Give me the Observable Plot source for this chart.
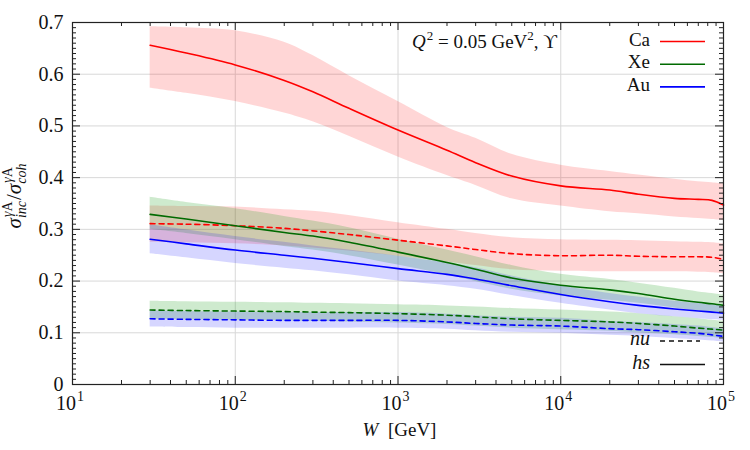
<!DOCTYPE html>
<html>
<head>
<meta charset="utf-8">
<script src="https://cdn.jsdelivr.net/npm/d3@7"></script>
<script src="https://cdn.jsdelivr.net/npm/@observablehq/plot@0.6"></script>
<style>
  body { margin: 0; background: #fff; }
  #chart svg { display: block; }
  #chart svg text { font-family: "Liberation Serif", "DejaVu Serif", serif; }
</style>
</head>
<body>
<div id="chart"></div>
<script>
// Photon-nucleus energy W [GeV]
const W = [30, 50, 100, 200, 300, 500, 1000, 2000, 3000, 5000, 10000, 20000, 30000, 50000, 70000, 85000, 100000];

// Ratio sigma_inc / sigma_coh, central values and uncertainty band (lo, hi)
// "hs" = hot-spot model, "nu" = no-substructure model
const caHs   = [0.656, 0.641, 0.618, 0.588, 0.566, 0.534, 0.492, 0.453, 0.429, 0.403, 0.384, 0.376, 0.368, 0.360, 0.358, 0.356, 0.347];
const caHsLo = [0.573, 0.563, 0.547, 0.525, 0.508, 0.480, 0.440, 0.404, 0.385, 0.359, 0.345, 0.334, 0.330, 0.324, 0.321, 0.319, 0.317];
const caHsHi = [0.692, 0.690, 0.684, 0.662, 0.636, 0.597, 0.547, 0.497, 0.476, 0.445, 0.424, 0.412, 0.405, 0.397, 0.392, 0.390, 0.388];

const caNu   = [0.311, 0.310, 0.307, 0.302, 0.297, 0.290, 0.279, 0.268, 0.261, 0.253, 0.249, 0.250, 0.248, 0.247, 0.247, 0.246, 0.242];
const caNuLo = [0.275, 0.274, 0.272, 0.268, 0.264, 0.258, 0.248, 0.237, 0.230, 0.222, 0.219, 0.218, 0.218, 0.218, 0.217, 0.216, 0.214];
const caNuHi = [0.345, 0.344, 0.343, 0.338, 0.335, 0.327, 0.313, 0.300, 0.292, 0.284, 0.280, 0.279, 0.278, 0.276, 0.275, 0.274, 0.272];

const xeHs   = [0.329, 0.320, 0.307, 0.294, 0.287, 0.275, 0.256, 0.236, 0.223, 0.206, 0.192, 0.183, 0.176, 0.165, 0.159, 0.156, 0.153];
const xeHsLo = [0.300, 0.292, 0.280, 0.267, 0.260, 0.249, 0.231, 0.212, 0.199, 0.184, 0.171, 0.163, 0.157, 0.148, 0.142, 0.139, 0.135];
const xeHsHi = [0.362, 0.352, 0.340, 0.325, 0.316, 0.303, 0.281, 0.260, 0.247, 0.230, 0.213, 0.203, 0.196, 0.186, 0.179, 0.176, 0.173];

const xeNu   = [0.144, 0.143, 0.142, 0.141, 0.140, 0.139, 0.137, 0.134, 0.131, 0.127, 0.124, 0.121, 0.118, 0.113, 0.109, 0.107, 0.105];
const xeNuLo = [0.126, 0.125, 0.124, 0.123, 0.122, 0.121, 0.119, 0.116, 0.113, 0.109, 0.106, 0.103, 0.100, 0.096, 0.093, 0.091, 0.089];
const xeNuHi = [0.161, 0.160, 0.159, 0.158, 0.157, 0.156, 0.154, 0.152, 0.150, 0.147, 0.144, 0.140, 0.137, 0.131, 0.127, 0.124, 0.122];

const auHs   = [0.281, 0.272, 0.260, 0.250, 0.244, 0.236, 0.224, 0.213, 0.204, 0.191, 0.174, 0.160, 0.153, 0.146, 0.142, 0.140, 0.138];
const auHsLo = [0.253, 0.245, 0.234, 0.225, 0.220, 0.212, 0.200, 0.191, 0.184, 0.172, 0.157, 0.144, 0.137, 0.131, 0.127, 0.125, 0.124];
const auHsHi = [0.309, 0.299, 0.286, 0.275, 0.268, 0.260, 0.248, 0.235, 0.226, 0.210, 0.191, 0.176, 0.169, 0.161, 0.157, 0.155, 0.152];

const auNu   = [0.127, 0.126, 0.125, 0.124, 0.124, 0.124, 0.124, 0.121, 0.118, 0.115, 0.113, 0.108, 0.106, 0.102, 0.099, 0.096, 0.093];
const auNuLo = [0.111, 0.110, 0.109, 0.109, 0.109, 0.109, 0.109, 0.107, 0.104, 0.101, 0.099, 0.095, 0.093, 0.089, 0.086, 0.084, 0.082];
const auNuHi = [0.142, 0.141, 0.140, 0.139, 0.139, 0.139, 0.139, 0.136, 0.133, 0.130, 0.128, 0.122, 0.120, 0.116, 0.113, 0.110, 0.107];

// Axis ticks
const xMajor = [10, 100, 1000, 10000, 100000];
const xMinor = [10, 100, 1000, 10000].flatMap(d => [2, 3, 4, 5, 6, 7, 8, 9].map(k => d * k));
const xGrid = [100, 1000, 10000];
const yMajor = [0, 0.1, 0.2, 0.3, 0.4, 0.5, 0.6, 0.7];
const yMinor = d3.range(0, 71).filter(i => i % 10 !== 0).map(i => i / 100);
const yGrid = [0.1, 0.2, 0.3, 0.4, 0.5, 0.6];

const nuclei = ["Ca", "Xe", "Au"];
const lineColor = {Ca: "#ff0000", Xe: "#006a00", Au: "#0000ff"};
const bandColor = {Ca: "#ff0000", Xe: "#22a022", Au: "#0000ff"};
const bandOpacity = {Ca: 0.16, Xe: 0.22, Au: 0.16};

const series = [
  {nucleus: "Ca", model: "hs", mid: caHs, lo: caHsLo, hi: caHsHi},
  {nucleus: "Ca", model: "nu", mid: caNu, lo: caNuLo, hi: caNuHi},
  {nucleus: "Xe", model: "hs", mid: xeHs, lo: xeHsLo, hi: xeHsHi},
  {nucleus: "Xe", model: "nu", mid: xeNu, lo: xeNuLo, hi: xeNuHi},
  {nucleus: "Au", model: "hs", mid: auHs, lo: auHsLo, hi: auHsHi},
  {nucleus: "Au", model: "nu", mid: auNu, lo: auNuLo, hi: auNuHi}
];

const rows = series.map(s => W.map((w, i) => ({
  W: w, y: s.mid[i], lo: s.lo[i], hi: s.hi[i], nucleus: s.nucleus, model: s.model
})));

const width = 750, height = 450;
const margin = {left: 72, right: 27, top: 22, bottom: 66};
const innerW = width - margin.left - margin.right;
const innerH = height - margin.top - margin.bottom;
const majorLen = 8, minorLen = 4;
const tickStroke = "#222";
const curve = "catmull-rom";
const serif = "'Liberation Serif', 'DejaVu Serif', serif";

const bands = series.map((s, k) => Plot.areaY(rows[k], {
  x: "W", y1: "lo", y2: "hi", curve,
  fill: bandColor[s.nucleus], fillOpacity: bandOpacity[s.nucleus]
}));
const lines = series.map((s, k) => Plot.line(rows[k], {
  x: "W", y: "y", curve,
  stroke: lineColor[s.nucleus], strokeWidth: 1.6,
  strokeDasharray: s.model === "nu" ? "5,4" : null
}));

// inward ticks on all four sides of the frame
const yTickMarks = [
  Plot.tickY(yMajor, {y: d => d, insetRight: innerW - majorLen, stroke: tickStroke}),
  Plot.tickY(yMajor, {y: d => d, insetLeft: innerW - majorLen, stroke: tickStroke}),
  Plot.tickY(yMinor, {y: d => d, insetRight: innerW - minorLen, stroke: tickStroke}),
  Plot.tickY(yMinor, {y: d => d, insetLeft: innerW - minorLen, stroke: tickStroke})
];
const xTickMarks = [
  Plot.tickX(xMajor, {x: d => d, insetTop: innerH - majorLen, stroke: tickStroke}),
  Plot.tickX(xMajor, {x: d => d, insetBottom: innerH - majorLen, stroke: tickStroke}),
  Plot.tickX(xMinor, {x: d => d, insetTop: innerH - minorLen, stroke: tickStroke}),
  Plot.tickX(xMinor, {x: d => d, insetBottom: innerH - minorLen, stroke: tickStroke})
];

const plot = Plot.plot({
  width, height,
  marginLeft: margin.left, marginRight: margin.right,
  marginTop: margin.top, marginBottom: margin.bottom,
  style: {fontFamily: serif, fontSize: "20px", background: "#fff", color: "#111"},
  x: {type: "log", domain: [10, 1e5], axis: null, label: null},
  y: {domain: [0, 0.7], label: null},
  marks: [
    Plot.gridX(xGrid, {stroke: "#d8d8d8", strokeOpacity: 1}),
    Plot.gridY(yGrid, {stroke: "#d8d8d8", strokeOpacity: 1}),
    ...bands,
    ...lines,
    ...yTickMarks,
    ...xTickMarks,
    Plot.frame({stroke: "#222", strokeWidth: 1.2}),
    Plot.axisY(yMajor, {tickSize: 0, tickPadding: 9, label: null, fontSize: 20, fontFamily: serif,
      tickFormat: d => d === 0 ? "0" : d.toFixed(1)})
  ]
});

document.getElementById("chart").appendChild(plot);

const svg = d3.select(plot);
const sx = plot.scale("x");

// Lay out a run of text pieces with super/subscripts; "mark" remembers the
// start of a script group, "back" returns to it so sub- and superscript stack.
function mathText(parent, runs, {x, y, anchor = "start", rotate = 0}) {
  const g = parent.append("g").attr("transform", `translate(${x},${y}) rotate(${rotate})`);
  const inner = g.append("g").attr("text-anchor", "start");
  let cx = 0, mark = 0, maxX = 0;
  for (const r of runs) {
    if (r.mark) mark = cx;
    if (r.back) cx = mark;
    const t = inner.append("text")
      .attr("x", cx + (r.dx || 0))
      .attr("y", r.dy || 0)
      .attr("text-anchor", "start")
      .attr("font-family", serif)
      .attr("font-size", r.size)
      .attr("font-style", r.italic ? "italic" : "normal")
      .attr("fill", "#111")
      .style("white-space", "pre")
      .text(r.text);
    const w = t.node().getComputedTextLength();
    cx += w + (r.dx || 0);
    maxX = Math.max(maxX, cx);
    if (r.back) cx = maxX;
  }
  const off = anchor === "middle" ? -maxX / 2 : anchor === "end" ? -maxX : 0;
  inner.attr("transform", `translate(${off},0)`);
  return g;
}

// x tick labels 10^n
xMajor.forEach(v => {
  const n = Math.round(Math.log10(v));
  mathText(svg, [
    {text: "10", size: 20},
    {text: String(n), size: 14, dy: -9, dx: 1}
  ], {x: sx.apply(v) - 2, y: height - margin.bottom + 26, anchor: "middle"});
});

// x axis title
mathText(svg, [
  {text: "W", size: 19, italic: true},
  {text: "  [GeV]", size: 19}
], {x: margin.left + innerW / 2 + 2, y: 436, anchor: "middle"});

// y axis title: sigma_inc^{gamma A} / sigma_coh^{gamma A}
mathText(svg, [
  {text: "σ", size: 21, italic: true},
  {text: "γ", size: 14, italic: true, dy: -9, mark: true, dx: 1},
  {text: "A", size: 14, dy: -9},
  {text: "inc", size: 14, italic: true, dy: 5, back: true},
  {text: "/", size: 21, dx: 1},
  {text: "σ", size: 21, italic: true},
  {text: "γ", size: 14, italic: true, dy: -9, mark: true, dx: 1},
  {text: "A", size: 14, dy: -9},
  {text: "coh", size: 14, italic: true, dy: 5, back: true}
], {x: 21, y: 196, anchor: "middle", rotate: -90});

// kinematics annotation
mathText(svg, [
  {text: "Q", size: 19, italic: true},
  {text: "2", size: 13, dy: -8, dx: 1},
  {text: " = 0.05 GeV", size: 19},
  {text: "2", size: 13, dy: -8},
  {text: ", ϒ", size: 19}
], {x: 412, y: 48});

// nucleus legend
const legendX = 650, lineX1 = 660, lineX2 = 705;
nuclei.forEach((n, i) => {
  const base = 45.5 + i * 22.7;
  mathText(svg, [{text: n, size: 19}], {x: legendX, y: base, anchor: "end"});
  svg.append("line").attr("x1", lineX1).attr("x2", lineX2)
    .attr("y1", base - 4).attr("y2", base - 4)
    .attr("stroke", lineColor[n]).attr("stroke-width", 1.6);
});

// model legend
[["nu", "5,4", 345], ["hs", null, 368.5]].forEach(([m, dash, base]) => {
  mathText(svg, [{text: m, size: 20, italic: true}], {x: legendX, y: base, anchor: "end"});
  svg.append("line").attr("x1", lineX1).attr("x2", m === "nu" ? 700 : lineX2)
    .attr("y1", base - 4).attr("y2", base - 4)
    .attr("stroke", "#111").attr("stroke-width", 1.6)
    .attr("stroke-dasharray", dash);
});
</script>
</body>
</html>
